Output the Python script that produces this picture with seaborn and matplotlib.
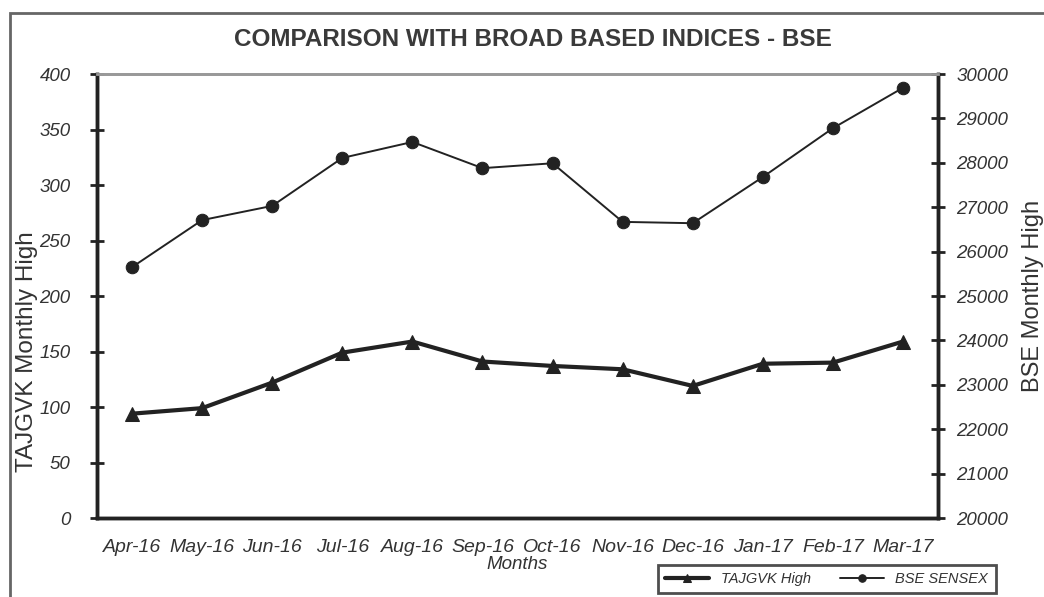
import matplotlib
matplotlib.use("Agg")
import matplotlib.pyplot as plt
import seaborn as sns
import pandas as pd
from matplotlib.patches import Rectangle
from matplotlib.ticker import FixedLocator, MultipleLocator

# data
months = ["Apr-16", "May-16", "Jun-16", "Jul-16", "Aug-16", "Sep-16",
          "Oct-16", "Nov-16", "Dec-16", "Jan-17", "Feb-17", "Mar-17"]
tajgvk_high = [94, 99, 122, 149, 159, 141, 137, 134, 119, 139, 140, 159]
bse_high = [25650, 26710, 27030, 28110, 28470, 27880,
            27990, 26670, 26640, 27680, 28780, 29690]

df = pd.DataFrame({"Month": months, "TAJGVK": tajgvk_high, "BSE": bse_high})

sns.set_theme(style="white")
plt.rcParams["font.family"] = ["Liberation Sans", "DejaVu Sans"]

ink = "#222222"
txt = "#333333"

fig = plt.figure(figsize=(10.44, 5.97), dpi=100)
ax = fig.add_axes([0.0929, 0.1323, 0.8056, 0.7437])
ax2 = ax.twinx()

sns.lineplot(data=df, x="Month", y="TAJGVK", ax=ax, color=ink, linewidth=3,
             marker="^", markersize=10, markeredgecolor=ink, label="TAJGVK High",
             legend=False)
sns.lineplot(data=df, x="Month", y="BSE", ax=ax2, color=ink, linewidth=1.4,
             marker="o", markersize=9, markeredgecolor=ink, label="BSE SENSEX",
             legend=False)

ax.set_xlim(-0.5, len(months) - 0.5)
ax.set_ylim(0, 400)
ax2.set_ylim(20000, 30000)
ax.yaxis.set_major_locator(MultipleLocator(50))
ax2.yaxis.set_major_locator(MultipleLocator(1000))

# x ticks sit on the category boundaries, labels in the middle
ax.set_xticks(range(len(months)))
ax.set_xticklabels(months)
ax.xaxis.set_minor_locator(FixedLocator([i - 0.5 for i in range(len(months) + 1)]))
ax.tick_params(axis="x", which="major", length=0, pad=15)
ax.tick_params(axis="x", which="minor", direction="inout", length=10, width=2, color=ink)
ax.tick_params(axis="y", direction="inout", length=10, width=2, color=ink, pad=14)
ax2.tick_params(axis="y", direction="inout", length=10, width=2, color=ink, pad=8)

for lab in ax.get_xticklabels():
    lab.set_fontstyle("italic")
    lab.set_fontsize(14)
    lab.set_color(txt)
for lab in ax.get_yticklabels() + ax2.get_yticklabels():
    lab.set_fontstyle("italic")
    lab.set_fontsize(13.5)
    lab.set_color(txt)

for a in (ax, ax2):
    for side in ("left", "right", "bottom"):
        a.spines[side].set_color(ink)
        a.spines[side].set_linewidth(2.5)
    a.spines["top"].set_color("#999999")
    a.spines["top"].set_linewidth(2)

ax.set_xlabel("Months", fontsize=13.5, fontstyle="italic", color=txt, labelpad=0)
ax.set_ylabel("TAJGVK Monthly High", fontsize=17.5, color=txt)
ax.yaxis.set_label_coords(-0.07, 0.375)
ax2.set_ylabel("BSE Monthly High", fontsize=17, color=txt, labelpad=10)

fig.text(0.51, 0.933, "COMPARISON WITH BROAD BASED INDICES - BSE",
         ha="center", va="center", fontsize=17.5, fontweight="bold", color="#3a3a3a")

h1, l1 = ax.get_legend_handles_labels()
h2, l2 = ax2.get_legend_handles_labels()
leg = fig.legend(h1 + h2, l1 + l2, loc="center", bbox_to_anchor=(0.792, 0.03),
                 ncol=2, frameon=True, fancybox=False,
                 prop={"style": "italic", "size": 10.5}, handlelength=3,
                 markerscale=0.6, borderpad=0.5, columnspacing=2)
leg.get_frame().set_edgecolor(ink)
leg.get_frame().set_linewidth(2)
for t in leg.get_texts():
    t.set_color(txt)

# outer frame of the figure
fig.patches.append(Rectangle((10 / 1044, -0.1), 1.2, 1.1 - 13 / 597,
                             transform=fig.transFigure, fill=False,
                             edgecolor="#666666", linewidth=2))

fig.savefig("out.png", dpi=100)
